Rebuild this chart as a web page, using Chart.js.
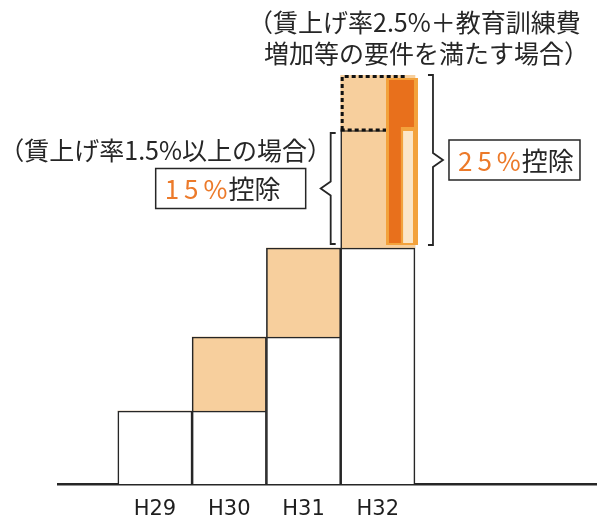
<!DOCTYPE html>
<html lang="ja">
<head>
<meta charset="utf-8">
<title>賃上げ控除</title>
<script src="https://cdn.jsdelivr.net/npm/chart.js@4.4.1/dist/chart.umd.min.js"></script>
<style>
  html, body { margin: 0; padding: 0; background: #fff; }
  #wrap { width: 597px; height: 519px; position: relative; }
</style>
</head>
<body>
<div id="wrap"><canvas id="stepChart"></canvas></div>
<script>
// 年度と各段の高さ（任意単位）
const categories = ['H29', 'H30', 'H31', 'H32'];
const baseValues = [73, 73, 147, 236];      // 前年までの水準（白）
const increaseValues = [0, 74, 89, 118];    // 増加分（薄橙）
const extraValues = [0, 0, 0, 55];          // 上乗せ分（点線）

const topNote = ['（賃上げ率2.5%＋教育訓練費', '増加等の要件を満たす場合）'];
const leftNote = '（賃上げ率1.5%以上の場合）';
const lowRate = '15%';
const highRate = '25%';
const rateSuffix = '控除';

const peach = '#f7cf9d';
const ink = '#262626';
const orange = '#ec7a2a';

Chart.defaults.font.family = "'Noto Sans CJK JP', 'Noto Sans', sans-serif";

const maxTotal = Math.max(...categories.map((c, i) => baseValues[i] + increaseValues[i] + extraValues[i]));
const toPoints = arr => arr.map((v, i) => ({ x: i, y: v }));

const annotations = {
    id: 'annotations',
    afterDatasetsDraw(chart) {
        const ctx = chart.ctx;
        const last = categories.length - 1;
        const baseBar = chart.getDatasetMeta(0).data[last];
        const incBar = chart.getDatasetMeta(1).data[last];
        const extraBar = chart.getDatasetMeta(2).data[last];
        const w = baseBar.width;
        const left = baseBar.x - w / 2;
        const right = baseBar.x + w / 2;
        const baseTop = baseBar.y;
        const incTop = incBar.y;
        const extraTop = extraBar.y;

        ctx.save();

        //todo: 点線の枠（上乗せ分）
        ctx.strokeStyle = '#111';
        ctx.lineWidth = 3;
        ctx.setLineDash([4, 3]);
        ctx.beginPath();
        ctx.moveTo(left + 1.5, incTop);
        ctx.lineTo(left + 1.5, extraTop + 1.5);
        ctx.lineTo(left + 0.9 * w, extraTop + 1.5);
        ctx.stroke();
        ctx.beginPath();
        ctx.moveTo(left, incTop);
        ctx.lineTo(left + 0.61 * w, incTop);
        ctx.stroke();
        ctx.setLineDash([]);
        ctx.lineWidth = 1.2;
        ctx.beginPath();
        ctx.moveTo(left, incTop + 1);
        ctx.lineTo(left + 0.61 * w, incTop + 1);
        ctx.stroke();

        //todo: 橙色の帯
        ctx.fillStyle = '#f3a23c';
        ctx.fillRect(left + 0.61 * w, extraTop + 3, right + 3 - (left + 0.61 * w), baseTop - 3 - (extraTop + 3));
        ctx.fillStyle = '#e8701c';
        ctx.fillRect(left + 0.65 * w, extraTop + 5, right - 1 - (left + 0.65 * w), baseTop - 5 - (extraTop + 5));
        ctx.fillStyle = '#f3a23c';
        ctx.fillRect(left + 0.81 * w, incTop - 3, right + 3 - (left + 0.81 * w), baseTop - 3 - (incTop - 3));
        ctx.fillStyle = '#fbe6c8';
        ctx.fillRect(left + 0.84 * w, incTop + 1, right - 2 - (left + 0.84 * w), baseTop - 5 - (incTop + 1));

        //todo: 括弧
        ctx.strokeStyle = ink;
        ctx.lineWidth = 1.8;
        const brace = (x, y1, y2, dir) => {
            const mid = (y1 + y2) / 2;
            ctx.beginPath();
            ctx.moveTo(x - dir * 5, y1);
            ctx.lineTo(x, y1);
            ctx.lineTo(x, mid - 7);
            ctx.lineTo(x + dir * 10, mid);
            ctx.lineTo(x, mid + 7);
            ctx.lineTo(x, y2);
            ctx.lineTo(x - dir * 5, y2);
            ctx.stroke();
            return { x: x + dir * 10, y: mid };
        };
        const lowTip = brace(left - 10, incTop + 3, baseTop - 4, -1);
        const highTip = brace(right + 18, extraTop, baseTop - 3, 1);

        //todo: 控除率の枠
        const rateBox = (text, bx, by, bw) => {
            ctx.lineWidth = 1.5;
            ctx.strokeStyle = ink;
            ctx.strokeRect(bx, by - 20, bw, 40);
            ctx.font = '26px "Noto Sans CJK JP"';
            ctx.textBaseline = 'middle';
            ctx.textAlign = 'left';
            ctx.letterSpacing = '5px';
            ctx.fillStyle = orange;
            ctx.fillText(text, bx + 9, by + 1);
            const tw = ctx.measureText(text).width;
            ctx.letterSpacing = '0px';
            ctx.fillStyle = ink;
            ctx.fillText(rateSuffix, bx + 9 + tw - 4, by + 1);
        };
        rateBox(lowRate, lowTip.x - 165, lowTip.y, 150);
        rateBox(highRate, highTip.x + 6, highTip.y, 131);

        //todo: 説明文
        ctx.fillStyle = ink;
        ctx.textBaseline = 'middle';
        ctx.font = '25px "Noto Sans CJK JP"';
        ctx.textAlign = 'left';
        ctx.fillText(topNote[0], 248, 22);
        ctx.fillText(topNote[1], 264, 53);
        ctx.textAlign = 'right';
        ctx.fillText(leftNote, 332, 150);

        ctx.restore();
    }
};

const stepCtx = document.getElementById('stepChart').getContext('2d');
new Chart(stepCtx, {
    type: 'bar',
    data: {
        datasets: [{
            label: '基準',
            data: toPoints(baseValues),
            backgroundColor: '#ffffff',
            borderColor: ink,
            borderWidth: 1.6
        }, {
            label: '増加分',
            data: toPoints(increaseValues),
            backgroundColor: peach,
            borderColor: ink,
            borderWidth: c => c.dataIndex === categories.length - 1 ? { left: 1.6, top: 0, right: 0, bottom: 0 } : 1.6
        }, {
            label: '上乗せ',
            data: toPoints(extraValues),
            backgroundColor: peach,
            borderWidth: 0
        }]
    },
    options: {
        responsive: true,
        maintainAspectRatio: false,
        animation: false,
        barPercentage: 1,
        categoryPercentage: 1,
        layout: { padding: { top: 75, left: 58, right: 0, bottom: 0 } },
        plugins: {
            legend: { display: false },
            tooltip: { enabled: false }
        },
        scales: {
            x: {
                type: 'linear',
                stacked: true,
                offset: false,
                min: -1.305,
                max: 5.95,
                grid: { display: false, drawTicks: false, offset: false },
                border: { color: ink, width: 2.5 },
                afterBuildTicks: scale => { scale.ticks = categories.map((c, i) => ({ value: i })); },
                afterFit: scale => { scale.height = 35; },
                ticks: {
                    autoSkip: false,
                    maxRotation: 0,
                    padding: 15,
                    color: '#1e1e1e',
                    font: { family: 'DejaVu Sans', size: 21, lineHeight: 1 },
                    callback: v => categories[v] ?? ''
                }
            },
            y: {
                display: false,
                stacked: true,
                min: 0,
                max: maxTotal
            }
        }
    },
    plugins: [annotations]
});
</script>
</body>
</html>
